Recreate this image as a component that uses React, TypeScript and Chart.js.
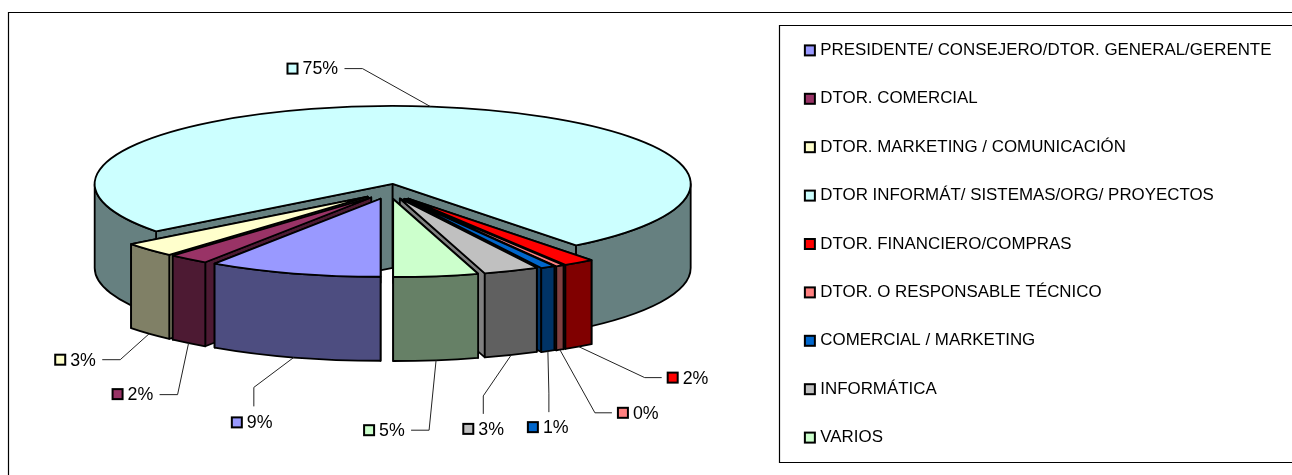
import React, { useEffect, useRef } from "react";
import { Chart, registerables } from "chart.js";

Chart.register(...registerables);

const categories = [
  "PRESIDENTE/ CONSEJERO/DTOR. GENERAL/GERENTE",
  "DTOR. COMERCIAL",
  "DTOR. MARKETING / COMUNICACIÓN",
  "DTOR INFORMÁT/ SISTEMAS/ORG/ PROYECTOS",
  "DTOR. FINANCIERO/COMPRAS",
  "DTOR. O RESPONSABLE TÉCNICO",
  "COMERCIAL / MARKETING",
  "INFORMÁTICA",
  "VARIOS",
];
const shares = [9.4, 2.2, 3.0, 74.85, 1.7, 0.45, 0.8, 3.0, 4.6];
const explode = [14.6, 14.6, 14.6, 14.6, 16.8, 16.8, 16, 14.6, 14.6];
const topColors = ["#9999FF", "#993366", "#FFFFCC", "#CCFFFF", "#FF0000", "#FF8080", "#0066CC", "#C0C0C0", "#CCFFCC"];
const wallColors = ["#4D4D80", "#4D1A33", "#808066", "#668080", "#800000", "#804040", "#003366", "#606060", "#668066"];
const cutColors = ["#4D4D80", "#4D1A33", "#808066", "#668080", "#800000", "#804040", "#003366", "#808080", "#668066"];

// label placement relative to the anchor on each slice: elbow, leader end, key centre
const labelLayout = [
  { elbow: [-40, 30], end: [-40, 49], key: [-57, 65] },
  { elbow: [-11, 51.5], end: [-29, 51.5], key: [-71, 51] },
  { elbow: [-29, 26], end: [-47, 26], key: [-89, 26] },
  { elbow: [-68, -38], end: [-86, -38], key: [-138, -38] },
  { elbow: [66, 31], end: [83, 31], key: [94, 31] },
  { elbow: [35, 63], end: [52, 63], key: [63, 63] },
  { elbow: [1, 42], end: [1, 61], key: [-15, 76] },
  { elbow: [-28, 41], end: [-28, 59], key: [-43, 74] },
  { elbow: [-7, 70], end: [-25, 70], key: [-67, 70] },
];

const FONT = '"Liberation Sans", Arial, sans-serif';
const RADIUS = 150;
const RX = 298;
const RY = 78;
const DEPTH = 84;
const CX = 389;
const CY = 191.5;
const SX = RX / RADIUS;
const SY = RY / RADIUS;
const LEGEND_SIZE = 16.9;
const LABEL_SIZE = 17.8;

function geom(arc: any) {
  const p = arc.getProps(["startAngle", "endAngle"], true);
  const mid = (p.startAngle + p.endAngle) / 2;
  const off = arc.options.offset || 0;
  const ox = CX + off * SX * Math.cos(mid);
  const oy = CY + off * SY * Math.sin(mid);
  const at = (a: number, d = 0) => [ox + RX * Math.cos(a), oy + RY * Math.sin(a) + d];
  return { s: p.startAngle, e: p.endAngle, mid, ox, oy, at };
}

function face(ctx: CanvasRenderingContext2D, build: () => void, fill: string) {
  ctx.beginPath();
  build();
  ctx.closePath();
  ctx.fillStyle = fill;
  ctx.fill();
  ctx.stroke();
}

function drawArcPath(ctx: CanvasRenderingContext2D, g: any, a0: number, a1: number, d: number, ccw = false) {
  ctx.ellipse(g.ox, g.oy + d, RX, RY, 0, a0, a1, ccw);
}

function drawSlice(ctx: CanvasRenderingContext2D, arc: any, i: number) {
  const g = geom(arc);
  ctx.strokeStyle = "#000";
  ctx.lineWidth = 1.8;
  ctx.lineJoin = "round";
  const cut = (a: number) =>
    face(
      ctx,
      () => {
        const c = g.at(a);
        ctx.moveTo(g.ox, g.oy);
        ctx.lineTo(c[0], c[1]);
        ctx.lineTo(c[0], c[1] + DEPTH);
        ctx.lineTo(g.ox, g.oy + DEPTH);
      },
      cutColors[i]
    );
  // the cut face whose corner is further back goes first
  [g.s, g.e].sort((a, b) => Math.sin(a) - Math.sin(b)).forEach(cut);
  // outer wall: only the parts on the near half of the ellipse (sin > 0)
  const TAU = Math.PI * 2;
  for (let k = -1; k <= 2; k++) {
    const lo = Math.max(g.s, k * TAU);
    const hi = Math.min(g.e, k * TAU + Math.PI);
    if (hi > lo) {
      face(
        ctx,
        () => {
          drawArcPath(ctx, g, lo, hi, 0);
          drawArcPath(ctx, g, hi, lo, DEPTH, true);
        },
        wallColors[i]
      );
    }
  }
  face(
    ctx,
    () => {
      ctx.moveTo(g.ox, g.oy);
      drawArcPath(ctx, g, g.s, g.e, 0);
    },
    topColors[i]
  );
}

function drawLabel(ctx: CanvasRenderingContext2D, arc: any, i: number) {
  const g = geom(arc);
  const frontal = Math.sin(g.mid) > 0;
  const a = g.at(g.mid, frontal ? DEPTH : 0);
  const l = labelLayout[i];
  ctx.strokeStyle = "#222";
  ctx.lineWidth = 1;
  ctx.beginPath();
  ctx.moveTo(a[0], a[1]);
  ctx.lineTo(a[0] + l.elbow[0], a[1] + l.elbow[1]);
  ctx.lineTo(a[0] + l.end[0], a[1] + l.end[1]);
  ctx.stroke();
  const kx = a[0] + l.key[0];
  const ky = a[1] + l.key[1];
  ctx.fillStyle = topColors[i];
  ctx.fillRect(kx - 5, ky - 5, 10, 10);
  ctx.strokeStyle = "#000";
  ctx.lineWidth = 2;
  ctx.strokeRect(kx - 5, ky - 5, 10, 10);
  ctx.fillStyle = "#000";
  ctx.font = `${LABEL_SIZE}px ${FONT}`;
  ctx.textAlign = "left";
  ctx.textBaseline = "middle";
  ctx.fillText(`${Math.round(shares[i])}%`, kx + 10, ky + 1);
}

const pie3d = {
  id: "pie3d",
  beforeDatasetsDraw(chart: any) {
    const ctx = chart.ctx as CanvasRenderingContext2D;
    const arcs = chart.getDatasetMeta(0).data;
    const order = arcs
      .map((arc: any, i: number) => {
        const g = geom(arc);
        return { i, arc, y: g.oy + RY * Math.sin(g.mid) };
      })
      .sort((a: any, b: any) => a.y - b.y);
    ctx.save();
    order.forEach((o: any) => drawSlice(ctx, o.arc, o.i));
    ctx.restore();
    return false;
  },
  afterDraw(chart: any) {
    const ctx = chart.ctx as CanvasRenderingContext2D;
    const arcs = chart.getDatasetMeta(0).data;
    ctx.save();
    arcs.forEach((arc: any, i: number) => drawLabel(ctx, arc, i));

    // frames: chart area frame and legend frame, both running off the right edge
    ctx.strokeStyle = "#000";
    ctx.lineWidth = 1.2;
    ctx.beginPath();
    ctx.moveTo(8.5, chart.height);
    ctx.lineTo(8.5, 12.5);
    ctx.lineTo(chart.width, 12.5);
    ctx.moveTo(chart.width, 25.5);
    ctx.lineTo(779.5, 25.5);
    ctx.lineTo(779.5, 462.5);
    ctx.lineTo(chart.width, 462.5);
    ctx.stroke();

    // legend keys, placed from the legend's own hit boxes
    const boxes = chart.legend.legendHitBoxes;
    boxes.forEach((b: any, i: number) => {
      const kx = b.left + 3;
      const ky = b.top + b.height / 2;
      ctx.fillStyle = topColors[i];
      ctx.fillRect(kx - 5, ky - 5, 10, 10);
      ctx.strokeStyle = "#000";
      ctx.lineWidth = 2;
      ctx.strokeRect(kx - 5, ky - 5, 10, 10);
    });
    ctx.restore();
  },
};

export default function App() {
  const ref = useRef<HTMLCanvasElement>(null);
  useEffect(() => {
    document.body.style.margin = "0";
    const chart = new Chart(ref.current as HTMLCanvasElement, {
      type: "pie",
      data: {
        labels: categories,
        datasets: [
          {
            data: shares,
            backgroundColor: topColors,
            borderColor: "#000",
            borderWidth: 0,
            offset: explode,
            radius: RADIUS,
          } as any,
        ],
      },
      plugins: [pie3d],
      options: {
        responsive: false,
        animation: false,
        rotation: 180,
        layout: { padding: { top: 24, right: 10.55 } },
        plugins: {
          tooltip: { enabled: false },
          title: { display: false },
          legend: {
            position: "right",
            align: "start",
            labels: {
              boxWidth: 5,
              boxHeight: 44,
              padding: 4.4,
              color: "#000",
              font: { family: FONT, size: LEGEND_SIZE },
              generateLabels: () =>
                categories.map((text, index) => ({
                  text,
                  index,
                  fillStyle: "rgba(0,0,0,0)",
                  strokeStyle: "rgba(0,0,0,0)",
                  lineWidth: 0,
                })),
            },
          },
        },
      },
    } as any);
    return () => chart.destroy();
  }, []);
  return <canvas ref={ref} width={1292} height={475} style={{ display: "block", width: 1292, height: 475 }} />;
}
